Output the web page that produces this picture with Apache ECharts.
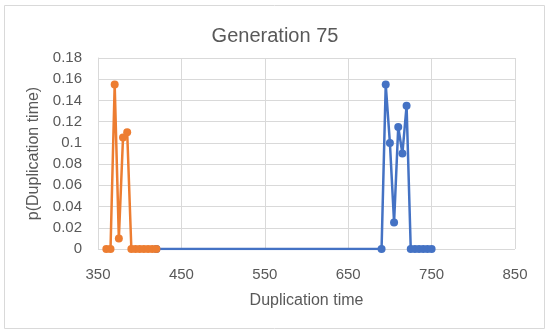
<!DOCTYPE html>
<html>
<head>
<meta charset="utf-8">
<script src="https://cdn.jsdelivr.net/npm/echarts@6/dist/echarts.min.js"></script>
<style>html,body{margin:0;padding:0;background:#fff;}#c{width:550px;height:335px;}</style>
</head>
<body>
<div id="c"></div>
<script>
var blueX = [420, 690, 695, 700, 705, 710, 715, 720, 725, 730, 735, 740, 745, 750];
var blueY = [0, 0, 0.155, 0.1, 0.025, 0.115, 0.09, 0.135, 0, 0, 0, 0, 0, 0];
var orangeX = [360, 365, 370, 375, 380, 385, 390, 395, 400, 405, 410, 415, 420];
var orangeY = [0, 0, 0.155, 0.01, 0.105, 0.11, 0, 0, 0, 0, 0, 0, 0];
var xTicks = [350, 450, 550, 650, 750, 850];
var yTicks = [0, 0.02, 0.04, 0.06, 0.08, 0.1, 0.12, 0.14, 0.16, 0.18];

function pairs(xs, ys) { return xs.map(function (x, i) { return [x, ys[i]]; }); }

var chart = echarts.init(document.getElementById('c'));
var font = 'Liberation Sans, Arial, sans-serif';
var txt = '#595959';
chart.setOption({
  animation: false,
  graphic: [{
    type: 'rect', shape: { x: 4.5, y: 5.5, width: 540, height: 323 },
    style: { fill: 'none', stroke: '#d9d9d9', lineWidth: 1 }, z: -1
  }],
  title: {
    text: 'Generation 75', left: 'center', top: 21,
    textStyle: { color: txt, fontSize: 20, fontWeight: 'normal', fontFamily: font }
  },
  grid: { left: 98, right: 35, top: 58, bottom: 86 },
  xAxis: {
    type: 'value', min: xTicks[0], max: xTicks[xTicks.length - 1], interval: 100,
    name: 'Duplication time', nameLocation: 'middle', nameGap: 44,
    nameTextStyle: { color: txt, fontSize: 16, fontFamily: font },
    axisLine: { show: false }, axisTick: { show: false },
    axisLabel: { color: txt, fontSize: 15, fontFamily: font, margin: 18 },
    splitLine: { show: true, lineStyle: { color: '#d9d9d9', width: 1 } }
  },
  yAxis: {
    type: 'value', min: 0, max: yTicks[yTicks.length - 1], interval: 0.02,
    name: 'p(Duplication time)', nameLocation: 'middle', nameGap: 53,
    nameTextStyle: { color: txt, fontSize: 16, fontFamily: font },
    axisLine: { show: true, lineStyle: { color: '#d9d9d9' } }, axisTick: { show: false },
    axisLabel: { color: txt, fontSize: 15, fontFamily: font, margin: 16,
      formatter: function (v) { return String(parseFloat(v.toFixed(2))); } },
    splitLine: { show: true, lineStyle: { color: '#d9d9d9', width: 1 } }
  },
  series: [{
    type: 'line', data: pairs(blueX, blueY), symbol: 'circle', symbolSize: 8,
    itemStyle: { color: '#4472C4' }, lineStyle: { color: '#4472C4', width: 2.5 }
  }, {
    type: 'line', data: pairs(orangeX, orangeY), symbol: 'circle', symbolSize: 8,
    itemStyle: { color: '#ED7D31' }, lineStyle: { color: '#ED7D31', width: 2.5 }
  }]
});
</script>
</body>
</html>
